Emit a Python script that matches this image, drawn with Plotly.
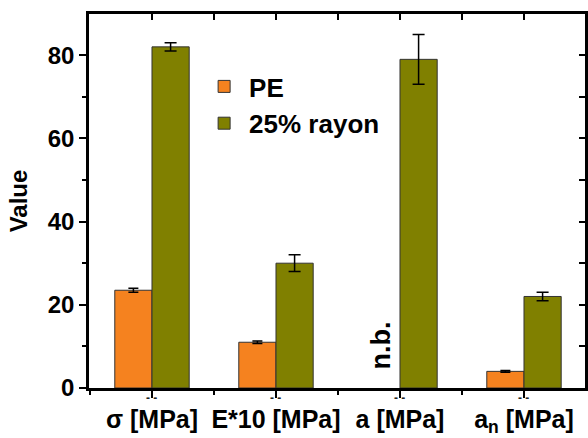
import plotly.graph_objects as go

categories = ["σ [MPa]", "E*10 [MPa]", "a [MPa]", "a<sub>n</sub> [MPa]"]
cat_pos = [0, 1, 2, 3]
pe_values = [23.5, 11.0, None, 4.0]
pe_errors = [0.5, 0.3, 0.0, 0.2]
rayon_values = [82.0, 30.0, 79.0, 22.0]
rayon_errors = [1.0, 2.0, 6.0, 1.0]
series_names = ["PE", "25% rayon"]
y_ticks = [0, 20, 40, 60, 80]

FONT = "Liberation Sans, Arial, sans-serif"
ORANGE = "#F5821F"
OLIVE = "#808000"
XR = [-0.508, 3.492]
YR = [0, 89.9]

fig = go.Figure()
fig.add_trace(go.Bar(
    x=cat_pos, y=pe_values, name=series_names[0],
    marker=dict(color=ORANGE, line=dict(color="#333333", width=1)),
    error_y=dict(type="data", array=pe_errors, color="black", thickness=1.5, width=5),
))
fig.add_trace(go.Bar(
    x=cat_pos, y=rayon_values, name=series_names[1],
    marker=dict(color=OLIVE, line=dict(color="#333333", width=1)),
    error_y=dict(type="data", array=rayon_errors, color="black", thickness=1.5, width=6),
))
# invisible trace to create mirrored top/right axes with inward ticks
fig.add_trace(go.Scatter(x=[None], y=[None], xaxis="x2", yaxis="y2",
                         showlegend=False, hoverinfo="skip"))

fig.update_layout(
    width=588, height=438,
    margin=dict(l=89, r=3, t=14, b=50),
    paper_bgcolor="white", plot_bgcolor="white",
    barmode="group", bargap=0.4, bargroupgap=0,
    font=dict(family=FONT, size=24, color="black", weight="bold"),
    showlegend=True,
    legend=dict(x=0.222, y=0.869, xanchor="left", yanchor="top",
                bgcolor="rgba(0,0,0,0)", font=dict(size=26, family=FONT, weight="bold"),
                itemwidth=40, tracegroupgap=0),
    xaxis=dict(range=XR, tickmode="array", tickvals=cat_pos, ticktext=categories,
               automargin=False,
               showline=True, linecolor="black", linewidth=2.5, mirror=False,
               ticks="outside", ticklen=7, tickwidth=1.5, tickcolor="black",
               showgrid=False, zeroline=False,
               tickfont=dict(size=25, family=FONT, weight="bold"),
               minor=dict(tickmode="linear", tick0=0.5, dtick=1, ticks="outside",
                          ticklen=4, tickwidth=1.5, tickcolor="black", showgrid=False)),
    yaxis=dict(range=YR, tickmode="array", tickvals=y_ticks,
               automargin=False,
               showline=True, linecolor="black", linewidth=2.5,
               ticks="outside", ticklen=7, tickwidth=2, tickcolor="black",
               showgrid=False, zeroline=False,
               tickfont=dict(size=24, family=FONT, weight="bold"),
               title=dict(text="Value", font=dict(size=24, family=FONT, weight="bold"), standoff=14),
               minor=dict(tickmode="linear", tick0=0, dtick=10, ticks="outside",
                          ticklen=4, tickwidth=1.5, tickcolor="black", showgrid=False)),
    xaxis2=dict(overlaying="x", side="top", range=XR, tickmode="linear", tick0=0, dtick=0.5,
                automargin=False,
                ticks="inside", ticklen=6, tickwidth=1.5, tickcolor="black",
                showticklabels=False, showline=True, linecolor="black", linewidth=2.5,
                showgrid=False, zeroline=False),
    yaxis2=dict(overlaying="y", side="right", range=YR, tickmode="linear", tick0=0, dtick=10,
                automargin=False,
                ticks="inside", ticklen=6, tickwidth=1.5, tickcolor="black",
                showticklabels=False, showline=True, linecolor="black", linewidth=2.5,
                showgrid=False, zeroline=False),
)

# "n.b." marker for missing PE value
fig.add_annotation(x=cat_pos[2] - 0.15, y=10.3, xref="x", yref="y", text="n.b.",
                   textangle=-90, showarrow=False,
                   font=dict(size=27, family=FONT, weight="bold", color="black"))
# small dashes under each category tick (paper x derived from the axis range)
for p in cat_pos:
    fig.add_annotation(x=(p - XR[0]) / (XR[1] - XR[0]), y=-0.028, xref="paper", yref="paper",
                       text="- -", showarrow=False, xanchor="center", yanchor="middle",
                       font=dict(size=12, family=FONT, color="#222222", weight="bold"))

fig.write_html("out.html", config={"displayModeBar": False},
               post_script="document.body.style.margin='0';document.body.style.padding='0';")
